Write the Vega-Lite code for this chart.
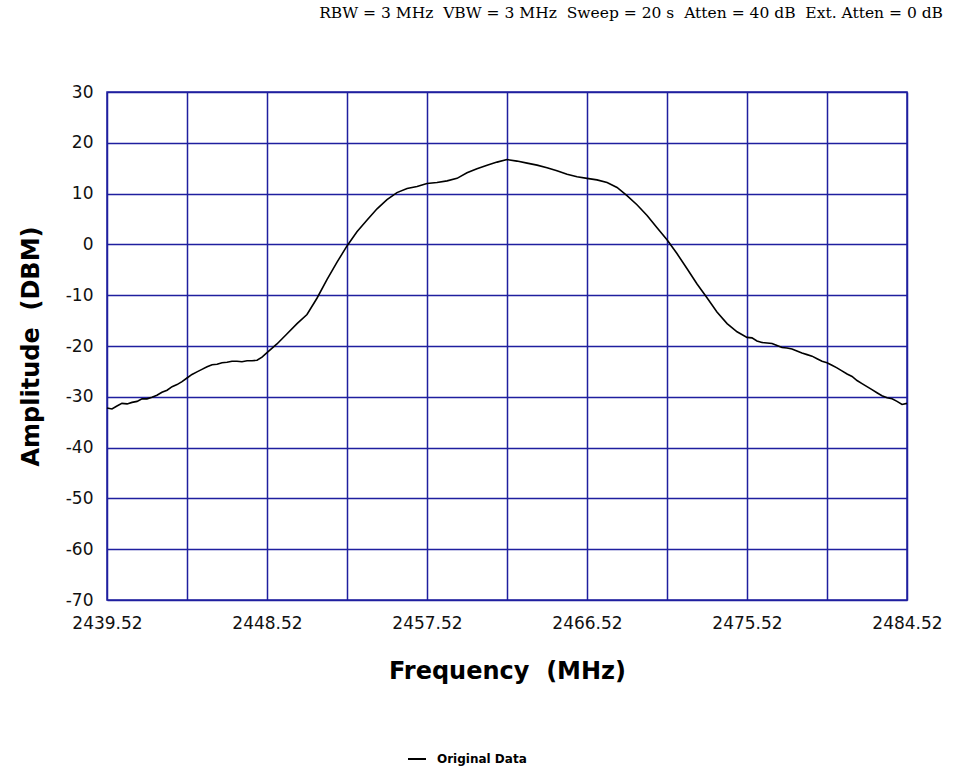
{
  "$schema": "https://vega.github.io/schema/vega-lite/v6.json",
  "width": 800,
  "height": 508,
  "autosize": {"type": "none"},
  "padding": {"left": 107, "top": 92, "right": 46, "bottom": 171},
  "background": "white",
  "config": {
    "view": {"stroke": "#1f1f9f", "strokeWidth": 1.5},
    "axis": {
      "grid": true,
      "gridColor": "#1f1f9f",
      "gridWidth": 1.5,
      "gridOpacity": 1,
      "domain": false,
      "ticks": false,
      "labelFont": "DejaVu Sans",
      "labelFontSize": 17,
      "labelColor": "#111",
      "titleFont": "DejaVu Sans",
      "titleFontSize": 24,
      "titleFontWeight": "bold",
      "titleColor": "#000"
    }
  },
  "title": {
    "text": "RBW = 3 MHz\u00a0\u00a0VBW = 3 MHz\u00a0\u00a0Sweep = 20 s\u00a0\u00a0Atten = 40 dB\u00a0\u00a0Ext. Atten = 0 dB",
    "anchor": "end",
    "frame": "group",
    "font": "DejaVu Serif",
    "fontSize": 15.5,
    "fontWeight": "normal",
    "color": "#000",
    "offset": 62,
    "dx": 36
  },
  "data": {
    "values": [
      {"freq": 2439.52, "amp": -32.2, "series": "Original Data"},
      {"freq": 2439.80, "amp": -32.4, "series": "Original Data"},
      {"freq": 2440.08, "amp": -31.8, "series": "Original Data"},
      {"freq": 2440.36, "amp": -31.3, "series": "Original Data"},
      {"freq": 2440.65, "amp": -31.4, "series": "Original Data"},
      {"freq": 2440.93, "amp": -31.1, "series": "Original Data"},
      {"freq": 2441.21, "amp": -30.9, "series": "Original Data"},
      {"freq": 2441.49, "amp": -30.4, "series": "Original Data"},
      {"freq": 2441.77, "amp": -30.4, "series": "Original Data"},
      {"freq": 2442.05, "amp": -30.1, "series": "Original Data"},
      {"freq": 2442.33, "amp": -29.7, "series": "Original Data"},
      {"freq": 2442.61, "amp": -29.1, "series": "Original Data"},
      {"freq": 2442.90, "amp": -28.7, "series": "Original Data"},
      {"freq": 2443.18, "amp": -28.0, "series": "Original Data"},
      {"freq": 2443.46, "amp": -27.6, "series": "Original Data"},
      {"freq": 2443.74, "amp": -27.0, "series": "Original Data"},
      {"freq": 2444.02, "amp": -26.3, "series": "Original Data"},
      {"freq": 2444.30, "amp": -25.6, "series": "Original Data"},
      {"freq": 2444.58, "amp": -25.1, "series": "Original Data"},
      {"freq": 2444.86, "amp": -24.6, "series": "Original Data"},
      {"freq": 2445.15, "amp": -24.1, "series": "Original Data"},
      {"freq": 2445.43, "amp": -23.7, "series": "Original Data"},
      {"freq": 2445.71, "amp": -23.6, "series": "Original Data"},
      {"freq": 2445.99, "amp": -23.3, "series": "Original Data"},
      {"freq": 2446.27, "amp": -23.2, "series": "Original Data"},
      {"freq": 2446.55, "amp": -23.0, "series": "Original Data"},
      {"freq": 2446.83, "amp": -23.0, "series": "Original Data"},
      {"freq": 2447.11, "amp": -23.1, "series": "Original Data"},
      {"freq": 2447.40, "amp": -22.9, "series": "Original Data"},
      {"freq": 2447.68, "amp": -22.9, "series": "Original Data"},
      {"freq": 2447.96, "amp": -22.8, "series": "Original Data"},
      {"freq": 2448.24, "amp": -22.2, "series": "Original Data"},
      {"freq": 2448.52, "amp": -21.3, "series": "Original Data"},
      {"freq": 2449.08, "amp": -19.6, "series": "Original Data"},
      {"freq": 2449.65, "amp": -17.6, "series": "Original Data"},
      {"freq": 2450.21, "amp": -15.6, "series": "Original Data"},
      {"freq": 2450.77, "amp": -13.8, "series": "Original Data"},
      {"freq": 2451.33, "amp": -10.6, "series": "Original Data"},
      {"freq": 2451.90, "amp": -6.9, "series": "Original Data"},
      {"freq": 2452.46, "amp": -3.5, "series": "Original Data"},
      {"freq": 2453.02, "amp": -0.3, "series": "Original Data"},
      {"freq": 2453.58, "amp": 2.5, "series": "Original Data"},
      {"freq": 2454.15, "amp": 4.8, "series": "Original Data"},
      {"freq": 2454.71, "amp": 7.0, "series": "Original Data"},
      {"freq": 2455.27, "amp": 8.8, "series": "Original Data"},
      {"freq": 2455.83, "amp": 10.2, "series": "Original Data"},
      {"freq": 2456.40, "amp": 11.0, "series": "Original Data"},
      {"freq": 2456.96, "amp": 11.4, "series": "Original Data"},
      {"freq": 2457.52, "amp": 12.0, "series": "Original Data"},
      {"freq": 2458.08, "amp": 12.2, "series": "Original Data"},
      {"freq": 2458.65, "amp": 12.5, "series": "Original Data"},
      {"freq": 2459.21, "amp": 13.0, "series": "Original Data"},
      {"freq": 2459.77, "amp": 14.1, "series": "Original Data"},
      {"freq": 2460.33, "amp": 14.9, "series": "Original Data"},
      {"freq": 2460.90, "amp": 15.6, "series": "Original Data"},
      {"freq": 2461.46, "amp": 16.2, "series": "Original Data"},
      {"freq": 2462.02, "amp": 16.7, "series": "Original Data"},
      {"freq": 2462.58, "amp": 16.4, "series": "Original Data"},
      {"freq": 2463.15, "amp": 16.0, "series": "Original Data"},
      {"freq": 2463.71, "amp": 15.6, "series": "Original Data"},
      {"freq": 2464.27, "amp": 15.1, "series": "Original Data"},
      {"freq": 2464.83, "amp": 14.5, "series": "Original Data"},
      {"freq": 2465.40, "amp": 13.8, "series": "Original Data"},
      {"freq": 2465.96, "amp": 13.3, "series": "Original Data"},
      {"freq": 2466.52, "amp": 13.0, "series": "Original Data"},
      {"freq": 2467.08, "amp": 12.7, "series": "Original Data"},
      {"freq": 2467.65, "amp": 12.2, "series": "Original Data"},
      {"freq": 2468.21, "amp": 11.2, "series": "Original Data"},
      {"freq": 2468.77, "amp": 9.6, "series": "Original Data"},
      {"freq": 2469.33, "amp": 7.8, "series": "Original Data"},
      {"freq": 2469.90, "amp": 5.7, "series": "Original Data"},
      {"freq": 2470.46, "amp": 3.3, "series": "Original Data"},
      {"freq": 2471.02, "amp": 0.9, "series": "Original Data"},
      {"freq": 2471.58, "amp": -1.8, "series": "Original Data"},
      {"freq": 2472.15, "amp": -4.8, "series": "Original Data"},
      {"freq": 2472.71, "amp": -7.8, "series": "Original Data"},
      {"freq": 2473.27, "amp": -10.5, "series": "Original Data"},
      {"freq": 2473.83, "amp": -13.3, "series": "Original Data"},
      {"freq": 2474.40, "amp": -15.6, "series": "Original Data"},
      {"freq": 2474.96, "amp": -17.2, "series": "Original Data"},
      {"freq": 2475.52, "amp": -18.3, "series": "Original Data"},
      {"freq": 2475.80, "amp": -18.4, "series": "Original Data"},
      {"freq": 2476.08, "amp": -19.0, "series": "Original Data"},
      {"freq": 2476.36, "amp": -19.3, "series": "Original Data"},
      {"freq": 2476.65, "amp": -19.4, "series": "Original Data"},
      {"freq": 2476.93, "amp": -19.5, "series": "Original Data"},
      {"freq": 2477.21, "amp": -19.9, "series": "Original Data"},
      {"freq": 2477.49, "amp": -20.3, "series": "Original Data"},
      {"freq": 2477.77, "amp": -20.4, "series": "Original Data"},
      {"freq": 2478.05, "amp": -20.6, "series": "Original Data"},
      {"freq": 2478.33, "amp": -21.0, "series": "Original Data"},
      {"freq": 2478.61, "amp": -21.4, "series": "Original Data"},
      {"freq": 2478.90, "amp": -21.7, "series": "Original Data"},
      {"freq": 2479.18, "amp": -22.0, "series": "Original Data"},
      {"freq": 2479.46, "amp": -22.5, "series": "Original Data"},
      {"freq": 2479.74, "amp": -23.0, "series": "Original Data"},
      {"freq": 2480.02, "amp": -23.3, "series": "Original Data"},
      {"freq": 2480.30, "amp": -23.8, "series": "Original Data"},
      {"freq": 2480.58, "amp": -24.3, "series": "Original Data"},
      {"freq": 2480.86, "amp": -24.9, "series": "Original Data"},
      {"freq": 2481.15, "amp": -25.5, "series": "Original Data"},
      {"freq": 2481.43, "amp": -26.0, "series": "Original Data"},
      {"freq": 2481.71, "amp": -26.8, "series": "Original Data"},
      {"freq": 2481.99, "amp": -27.4, "series": "Original Data"},
      {"freq": 2482.27, "amp": -28.0, "series": "Original Data"},
      {"freq": 2482.55, "amp": -28.6, "series": "Original Data"},
      {"freq": 2482.83, "amp": -29.2, "series": "Original Data"},
      {"freq": 2483.11, "amp": -29.8, "series": "Original Data"},
      {"freq": 2483.40, "amp": -30.2, "series": "Original Data"},
      {"freq": 2483.68, "amp": -30.4, "series": "Original Data"},
      {"freq": 2483.96, "amp": -30.9, "series": "Original Data"},
      {"freq": 2484.24, "amp": -31.5, "series": "Original Data"},
      {"freq": 2484.52, "amp": -31.3, "series": "Original Data"}
    ]
  },
  "mark": {"type": "line", "strokeWidth": 1.6, "interpolate": "linear"},
  "encoding": {
    "x": {
      "field": "freq",
      "type": "quantitative",
      "scale": {"domain": [2439.52, 2484.52], "nice": false, "zero": false},
      "axis": {
        "values": [2439.52, 2444.02, 2448.52, 2453.02, 2457.52, 2462.02, 2466.52, 2471.02, 2475.52, 2480.02, 2484.52],
        "labelExpr": "indexof(['2439.52','2448.52','2457.52','2466.52','2475.52','2484.52'], format(datum.value, '.2f')) >= 0 ? format(datum.value, '.2f') : ''",
        "labelPadding": 15,
        "labelFlush": false,
        "labelOverlap": false,
        "title": "Frequency\u00a0\u00a0(MHz)",
        "titlePadding": 28
      }
    },
    "y": {
      "field": "amp",
      "type": "quantitative",
      "scale": {"domain": [-70, 30], "nice": false, "zero": false},
      "axis": {
        "values": [-70, -60, -50, -40, -30, -20, -10, 0, 10, 20, 30],
        "labelExpr": "replace(format(datum.value, 'd'), '\u2212', '-')",
        "labelPadding": 14,
        "labelFlush": false,
        "labelOverlap": false,
        "title": "Amplitude\u00a0\u00a0(DBM)",
        "titlePadding": 22
      }
    },
    "color": {
      "field": "series",
      "type": "nominal",
      "scale": {"range": ["#000000"]},
      "legend": {
        "orient": "none",
        "legendX": 300,
        "legendY": 657,
        "title": null,
        "padding": 0,
        "symbolType": "stroke",
        "symbolSize": 324,
        "symbolStrokeWidth": 2,
        "symbolStrokeColor": "#000",
        "labelFont": "DejaVu Sans",
        "labelFontSize": 12,
        "labelFontWeight": "bold",
        "labelColor": "#000",
        "labelOffset": 10
      }
    }
  }
}
